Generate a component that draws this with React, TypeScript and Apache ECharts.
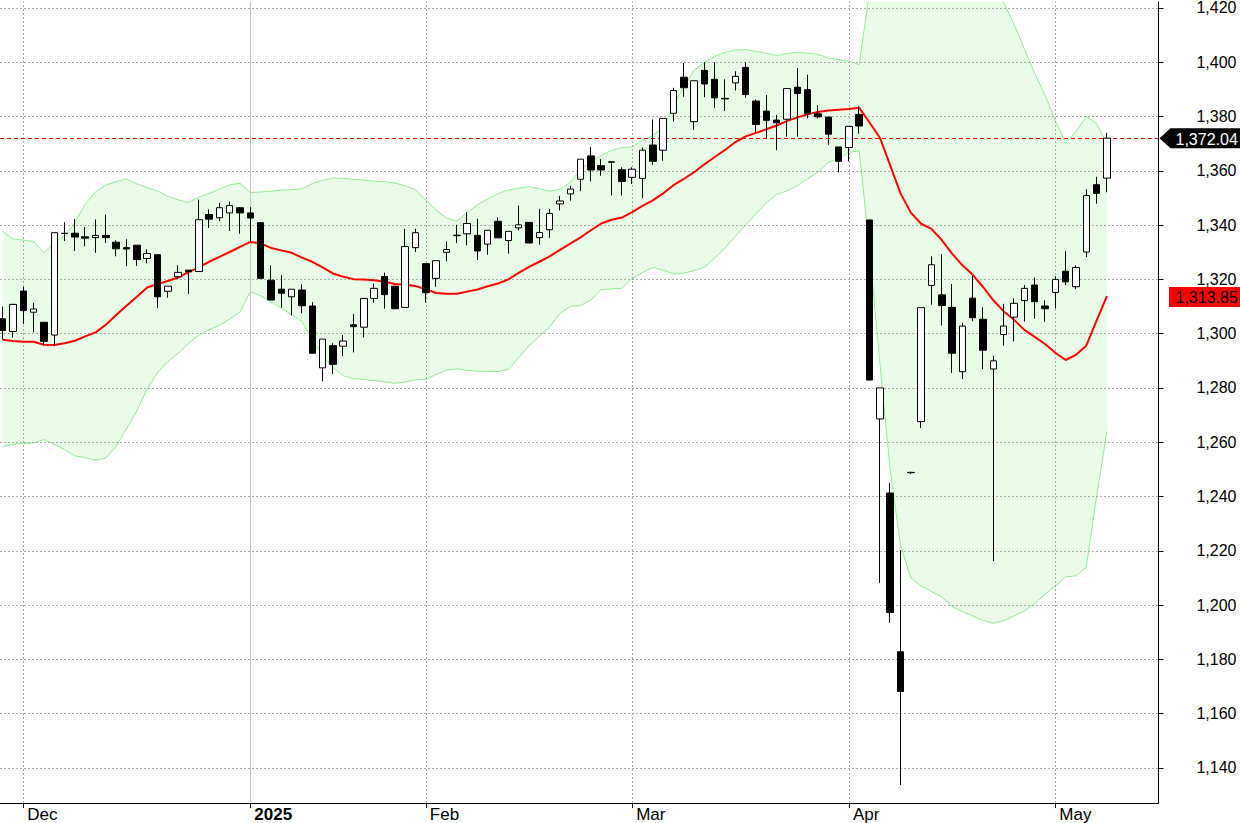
import React, { useEffect, useRef } from 'react';
import * as echarts from 'echarts';

const dates = [
  '2024-11-28','2024-11-29','2024-12-02','2024-12-03','2024-12-04','2024-12-05','2024-12-06','2024-12-09','2024-12-10','2024-12-11',
  '2024-12-12','2024-12-13','2024-12-16','2024-12-17','2024-12-18','2024-12-19','2024-12-20','2024-12-23','2024-12-24','2024-12-25',
  '2024-12-26','2024-12-27','2024-12-30','2024-12-31','2025-01-02','2025-01-03','2025-01-06','2025-01-07','2025-01-08','2025-01-09',
  '2025-01-10','2025-01-13','2025-01-14','2025-01-15','2025-01-16','2025-01-17','2025-01-20','2025-01-21','2025-01-22','2025-01-23',
  '2025-01-24','2025-02-03','2025-02-04','2025-02-05','2025-02-06','2025-02-07','2025-02-10','2025-02-11','2025-02-12','2025-02-13',
  '2025-02-14','2025-02-17','2025-02-18','2025-02-19','2025-02-20','2025-02-21','2025-02-24','2025-02-25','2025-02-26','2025-02-27',
  '2025-02-28','2025-03-03','2025-03-04','2025-03-05','2025-03-06','2025-03-07','2025-03-10','2025-03-11','2025-03-12','2025-03-13',
  '2025-03-14','2025-03-17','2025-03-18','2025-03-19','2025-03-20','2025-03-21','2025-03-24','2025-03-25','2025-03-26','2025-03-27',
  '2025-03-28','2025-03-31','2025-04-01','2025-04-02','2025-04-03','2025-04-04','2025-04-08','2025-04-09','2025-04-10','2025-04-11',
  '2025-04-14','2025-04-15','2025-04-16','2025-04-17','2025-04-18','2025-04-21','2025-04-22','2025-04-23','2025-04-24','2025-04-25',
  '2025-04-28','2025-04-29','2025-05-05','2025-05-06','2025-05-07','2025-05-08','2025-05-09','2025-05-12',
];

const opens = [
  1305.5,1300.8,1315.7,1307.9,1304.2,1299.5,1336.9,1337.0,1335.7,1335.4,
  1336.2,1333.7,1331.7,1332.6,1327.7,1329.1,1315.6,1321.0,1323.4,1322.9,
  1343.9,1342.7,1344.5,1346.4,1344.5,1340.9,1319.7,1316.4,1313.6,1316.1,
  1310.2,1287.4,1295.6,1295.4,1303.3,1302.4,1313.0,1321.1,1317.5,1309.7,
  1331.7,1325.8,1320.4,1330.0,1336.1,1336.8,1336.2,1333.0,1341.4,1334.3,
  1339.0,1341.0,1335.4,1338.3,1347.8,1351.5,1356.9,1365.5,1361.9,1363.3,
  1360.4,1357.6,1357.2,1369.5,1367.6,1381.2,1394.5,1378.1,1397.0,1393.7,
  1386.7,1392.4,1398.1,1385.7,1382.0,1378.7,1379.0,1390.8,1389.9,1381.0,
  1379.8,1368.8,1368.6,1380.8,1341.9,1268.6,1241.3,1182.8,1248.9,1267.6,
  1317.8,1314.3,1309.7,1286.0,1313.1,1305.3,1287.0,1299.7,1306.1,1312.2,
  1317.9,1310.2,1315.2,1323.0,1317.3,1330.1,1354.9,1357.3,
];
const closes = [
  1301.2,1310.8,1308.5,1309.1,1297.2,1337.2,1337.0,1335.6,1335.2,1336.2,
  1335.4,1331.3,1331.2,1327.3,1329.5,1313.6,1317.5,1322.6,1322.8,1342.0,
  1342.2,1346.4,1347.2,1344.5,1342.6,1320.4,1312.4,1314.9,1316.4,1310.3,
  1292.8,1298.0,1288.7,1297.3,1302.6,1313.0,1316.7,1314.4,1309.2,1332.1,
  1337.2,1315.1,1326.9,1331.0,1336.3,1340.6,1330.5,1338.1,1335.3,1337.7,
  1340.1,1333.4,1337.3,1344.3,1348.9,1353.3,1364.3,1360.3,1360.3,1363.2,
  1356.1,1360.6,1367.6,1363.5,1379.3,1389.6,1390.6,1393.2,1392.0,1386.9,
  1386.5,1394.8,1388.1,1377.1,1378.6,1377.7,1390.3,1388.5,1381.0,1379.9,
  1373.5,1363.5,1376.4,1376.5,1282.9,1280.0,1197.3,1168.2,1248.8,1309.6,
  1325.4,1310.4,1292.8,1302.8,1305.9,1293.9,1290.0,1302.8,1311.2,1316.7,
  1311.8,1309.2,1320.0,1319.1,1324.4,1350.9,1351.7,1372.04,
];
const lows = [
  1297.8,1298.6,1303.6,1300.5,1295.7,1295.7,1334.2,1330.5,1332.2,1329.8,
  1333.4,1328.5,1324.9,1324.9,1325.9,1309.4,1313.3,1320.2,1314.6,1322.9,
  1338.9,1341.5,1337.8,1336.8,1333.8,1320.4,1312.4,1309.6,1306.7,1307.5,
  1292.8,1282.5,1285.1,1291.7,1293.1,1298.6,1311.4,1309.2,1309.2,1309.7,
  1330.1,1311.4,1317.3,1326.7,1333.4,1332.6,1327.1,1329.1,1335.3,1329.5,
  1338.1,1333.4,1332.8,1335.3,1345.4,1349.0,1352.5,1356.1,1358.2,1350.9,
  1350.9,1355.2,1349.9,1362.2,1363.7,1378.1,1387.3,1375.1,1387.1,1383.2,
  1382.0,1389.6,1386.9,1374.1,1372.0,1367.6,1372.6,1372.6,1379.3,1379.3,
  1369.6,1359.4,1363.5,1373.7,1282.9,1208.2,1193.4,1133.7,1248.3,1265.2,
  1310.7,1303.0,1285.5,1283.3,1304.6,1286.9,1216.2,1295.6,1297.2,1304.5,
  1305.5,1304.4,1309.3,1317.9,1316.4,1328.2,1347.9,1352.1,
];
const highs = [
  1310.0,1311.0,1317.3,1311.4,1304.2,1337.2,1341.1,1342.3,1339.3,1342.1,
  1343.9,1334.4,1334.8,1332.6,1331.1,1329.1,1317.5,1325.2,1323.4,1349.4,
  1345.8,1348.2,1348.7,1346.6,1346.6,1340.9,1325.2,1321.6,1316.4,1318.2,
  1311.7,1298.0,1296.5,1299.5,1307.3,1313.0,1318.5,1322.5,1317.5,1338.7,
  1338.7,1325.8,1326.9,1334.0,1340.1,1344.8,1342.3,1338.1,1342.9,1337.7,
  1347.2,1341.0,1346.0,1346.0,1350.8,1354.5,1364.3,1368.8,1364.3,1363.4,
  1361.3,1361.3,1368.6,1378.9,1379.3,1390.6,1399.7,1393.2,1400.0,1400.0,
  1393.7,1396.7,1400.0,1386.3,1387.9,1380.6,1390.3,1397.9,1395.4,1384.2,
  1379.8,1368.8,1376.4,1383.8,1341.9,1280.0,1245.0,1220.3,1249.2,1309.6,
  1328.5,1329.3,1318.3,1304.0,1321.4,1309.7,1291.9,1311.0,1313.0,1317.9,
  1320.7,1312.3,1321.2,1330.4,1325.2,1353.2,1357.8,1374.0,
];

const sma20 = [
  1297.8,1297.3,1297.0,1297.0,1295.9,1295.8,1296.5,1297.4,1299.0,1300.5,
  1303.3,1306.9,1310.3,1313.6,1317.0,1318.3,1319.4,1320.7,1322.7,1324.4,
  1326.5,1328.3,1330.1,1332.0,1333.8,1333.3,1331.6,1330.7,1329.8,1328.0,
  1326.5,1324.4,1322.2,1321.0,1320.1,1320.0,1319.7,1319.1,1318.3,1318.0,
  1317.6,1316.4,1315.0,1314.7,1314.7,1315.5,1316.3,1317.5,1318.5,1320.0,
  1322.4,1324.6,1326.5,1328.5,1330.9,1333.2,1335.5,1338.1,1340.6,1342.0,
  1342.8,1344.8,1347.1,1349.1,1351.7,1354.7,1357.0,1359.5,1362.4,1365.1,
  1367.7,1370.6,1372.7,1374.0,1375.3,1376.7,1378.3,1379.7,1380.8,1381.7,
  1382.2,1382.5,1382.8,1383.2,1377.8,1372.2,1362.0,1351.7,1344.6,1340.5,
  1338.6,1334.5,1329.5,1325.2,1321.7,1317.2,1312.3,1308.2,1305.1,1301.4,
  1298.8,1296.2,1293.0,1290.3,1292.2,1295.6,1304.8,1313.85,
];
const bbUpper = [
  1337.7,1334.9,1334.5,1334.0,1329.8,1333.6,1336.0,1341.0,1347.8,1352.3,
  1354.8,1356.0,1357.0,1355.2,1353.8,1352.6,1350.6,1349.3,1348.3,1350.3,
  1351.7,1353.2,1354.9,1355.4,1352.0,1352.2,1352.5,1352.9,1353.0,1353.4,
  1355.3,1356.5,1357.4,1357.2,1356.9,1356.6,1356.2,1356.0,1355.5,1354.5,
  1353.0,1349.2,1345.6,1342.7,1341.5,1344.6,1347.5,1349.6,1351.6,1353.0,
  1353.6,1354.2,1353.4,1352.5,1353.2,1355.7,1360.5,1363.5,1365.7,1367.5,
  1368.6,1368.8,1371.3,1373.0,1376.0,1384.0,1391.0,1397.0,1400.0,1402.2,
  1403.6,1404.5,1404.6,1404.0,1403.3,1402.5,1403.2,1403.7,1403.3,1402.9,
  1401.6,1401.0,1400.4,1399.1,1426.0,1456.0,1475.0,1482.0,1479.0,1474.0,
  1472.0,1466.0,1460.0,1453.0,1447.0,1440.0,1431.0,1422.0,1414.0,1405.0,
  1396.0,1388.0,1378.5,1370.2,1374.5,1380.0,1377.5,1370.0,
];
const bbLower = [
  1258.4,1259.3,1259.5,1259.7,1261.0,1259.2,1257.3,1255.0,1254.3,1253.4,
  1254.2,1258.5,1265.0,1271.5,1279.6,1285.6,1289.7,1292.8,1296.3,1299.5,
  1301.5,1303.0,1305.4,1308.0,1315.5,1313.9,1311.8,1309.4,1307.0,1304.5,
  1297.7,1292.0,1287.5,1284.5,1283.4,1283.1,1282.7,1282.3,1281.7,1282.2,
  1283.0,1283.1,1285.0,1286.5,1287.1,1286.5,1286.2,1286.0,1286.1,1286.8,
  1291.2,1295.5,1299.0,1302.5,1307.5,1310.0,1310.4,1312.4,1316.2,1316.5,
  1316.7,1320.3,1322.5,1324.4,1323.4,1322.0,1322.3,1323.2,1324.5,1327.8,
  1331.5,1336.0,1340.0,1344.2,1348.2,1351.3,1352.6,1354.5,1357.0,1359.5,
  1363.0,1364.6,1366.8,1367.4,1331.0,1289.0,1250.0,1222.0,1210.0,1207.0,
  1205.0,1203.0,1199.5,1197.6,1196.0,1194.4,1193.3,1194.2,1196.0,1197.8,
  1200.5,1204.0,1207.0,1210.4,1210.8,1214.0,1240.0,1264.0,
];

const yTicks = [1140, 1160, 1180, 1200, 1220, 1240, 1260, 1280, 1300, 1320, 1340, 1360, 1380, 1400, 1420];
const monthNames = ['Jan', 'Feb', 'Mar', 'Apr', 'May', 'Jun', 'Jul', 'Aug', 'Sep', 'Oct', 'Nov', 'Dec'];
const lastClose = 1372.04;
const lastSma = 1313.85;

const FONT = '"Liberation Sans", Arial, Helvetica, sans-serif';

function fmt(v: number, digits = 0) {
  return v.toLocaleString('en-US', { minimumFractionDigits: digits, maximumFractionDigits: digits });
}

export default function App() {
  const ref = useRef<HTMLDivElement>(null);

  useEffect(() => {
    if (!ref.current) return;
    const chart = echarts.init(ref.current, undefined, { renderer: 'svg' });

    // month boundaries from the date list
    const monthIdx: number[] = [];
    const monthLabel = new Map<number, string>();
    const yearStart = new Set<number>();
    for (let i = 1; i < dates.length; i++) {
      const m0 = dates[i - 1].slice(5, 7);
      const m1 = dates[i].slice(5, 7);
      if (m0 !== m1) {
        monthIdx.push(i);
        const mi = parseInt(m1, 10) - 1;
        if (mi === 0) {
          monthLabel.set(i, '{b|' + dates[i].slice(0, 4) + '}');
          yearStart.add(i);
        } else {
          monthLabel.set(i, monthNames[mi]);
        }
      }
    }

    const n = dates.length;
    const candleData = dates.map((_, i) => [i, opens[i], closes[i], lows[i], highs[i]]);
    const smaData = sma20.map((v, i) => [i, v]);
    const upData = bbUpper.map((v, i) => [i, v]);
    const loData = bbLower.map((v, i) => [i, v]);

    const gridStyle = { color: '#ababab', width: 1, type: [2, 2] as any };
    const gridLines: any[] = [];
    yTicks.forEach((t) => gridLines.push({ yAxis: t, lineStyle: gridStyle }));
    monthIdx.forEach((i) =>
      gridLines.push({
        xAxis: i,
        lineStyle: yearStart.has(i) ? { color: '#c4c4c4', width: 1, type: 'solid' } : gridStyle,
      })
    );

    const option: any = {
      animation: false,
      backgroundColor: '#ffffff',
      grid: { left: 0, right: 81.5, top: 0, bottom: 16, containLabel: false },
      xAxis: {
        type: 'value',
        min: -0.26,
        max: 112.0,
        axisLine: { show: true, onZero: false, lineStyle: { color: '#000', width: 1 } },
        axisTick: { show: true, customValues: monthIdx, length: 5, lineStyle: { color: '#000', width: 1 } },
        axisLabel: {
          show: true,
          customValues: monthIdx,
          formatter: (v: number) => monthLabel.get(Math.round(v)) || '',
          align: 'left',
          verticalAlign: 'top',
          padding: [0, 0, 0, 4],
          margin: 3,
          fontSize: 17,
          fontFamily: FONT,
          color: '#000',
          rich: { b: { fontWeight: 'bold', fontSize: 17, fontFamily: FONT, color: '#000' } },
        },
        splitLine: { show: false },
      },
      yAxis: {
        type: 'value',
        position: 'right',
        min: 1127.1,
        max: 1422.3,
        axisLine: { show: true, onZero: false, lineStyle: { color: '#000', width: 1 } },
        axisTick: { show: true, customValues: yTicks, length: 5, lineStyle: { color: '#000', width: 1 } },
        axisLabel: {
          show: true,
          customValues: yTicks,
          formatter: (v: number) => fmt(v),
          align: 'right',
          margin: 78,
          fontSize: 16,
          fontFamily: FONT,
          color: '#000',
        },
        splitLine: { show: false },
      },
      series: [
        {
          type: 'custom',
          name: 'bbfill',
          z: 1,
          silent: true,
          clip: true,
          data: [[0, bbLower[0]]],
          encode: { x: 0, y: 1 },
          renderItem: (params: any, api: any) => {
            const pts: number[][] = [];
            for (let i = 0; i < n; i++) pts.push(api.coord([i, bbUpper[i]]));
            for (let i = n - 1; i >= 0; i--) pts.push(api.coord([i, bbLower[i]]));
            return { type: 'polygon', shape: { points: pts }, style: { fill: '#e8fce8', stroke: null } };
          },
        },
        {
          type: 'line',
          name: 'bbLower',
          z: 2,
          silent: true,
          data: loData,
          symbol: 'none',
          lineStyle: { color: '#90ee90', width: 1 },
          markLine: {
            silent: true,
            z: 3,
            symbol: 'none',
            label: { show: false },
            emphasis: { disabled: true },
            data: gridLines,
          },
        },
        {
          type: 'line',
          name: 'bbUpper',
          z: 2,
          silent: true,
          data: upData,
          symbol: 'none',
          lineStyle: { color: '#90ee90', width: 1 },
          markLine: {
            silent: true,
            z: 4,
            symbol: 'none',
            label: { show: false },
            emphasis: { disabled: true },
            data: [{ yAxis: lastClose, lineStyle: { color: '#ff0000', width: 1, type: [4, 3] } }],
          },
        },
        {
          type: 'line',
          name: 'SMA20',
          z: 6,
          silent: true,
          data: smaData,
          symbol: 'none',
          lineStyle: { color: '#ff0000', width: 2 },
        },
        {
          type: 'candlestick',
          name: 'price',
          z: 10,
          silent: true,
          barWidth: 7,
          data: candleData,
          itemStyle: {
            color: '#ffffff',
            color0: '#000000',
            borderColor: '#000000',
            borderColor0: '#000000',
            borderWidth: 1,
          },
        },
      ],
    };
    chart.setOption(option);

    const axisX = chart.convertToPixel({ xAxisIndex: 0 }, 112.0) as number;
    const yClose = chart.convertToPixel({ yAxisIndex: 0 }, lastClose) as number;
    const ySma = chart.convertToPixel({ yAxisIndex: 0 }, lastSma) as number;
    chart.setOption({
      graphic: [
        {
          type: 'polygon',
          z: 100,
          shape: {
            points: [
              [axisX + 1, yClose],
              [axisX + 12, yClose - 10],
              [1240, yClose - 10],
              [1240, yClose + 10],
              [axisX + 12, yClose + 10],
            ],
          },
          style: { fill: '#000' },
        },
        {
          type: 'text',
          z: 101,
          x: axisX + 17,
          y: yClose + 1,
          style: {
            text: fmt(lastClose, 2),
            fill: '#fff',
            font: '16px ' + FONT,
            verticalAlign: 'middle',
            align: 'left',
          },
        },
        {
          type: 'rect',
          z: 100,
          shape: { x: axisX + 10.5, y: ySma - 9, width: 1240 - axisX - 10.5, height: 20 },
          style: { fill: '#ff0000' },
        },
        {
          type: 'text',
          z: 101,
          x: axisX + 17,
          y: ySma + 1.5,
          style: {
            text: fmt(lastSma, 2),
            fill: '#000',
            font: '16px ' + FONT,
            verticalAlign: 'middle',
            align: 'left',
          },
        },
      ],
    });

    return () => chart.dispose();
  }, []);

  return (
    <div
      ref={ref}
      style={{ position: 'fixed', left: 0, top: 0, width: 1240, height: 823, background: '#fff' }}
    />
  );
}
